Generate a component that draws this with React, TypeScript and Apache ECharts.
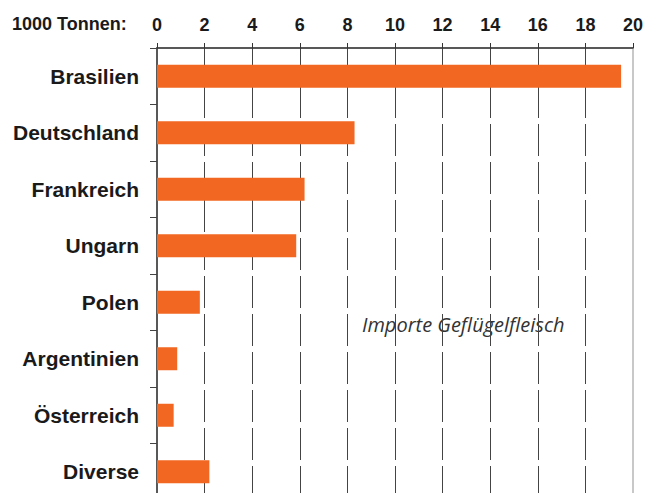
import React, { useEffect, useRef } from "react";
import * as echarts from "echarts";

const categories = [
  "Brasilien",
  "Deutschland",
  "Frankreich",
  "Ungarn",
  "Polen",
  "Argentinien",
  "Österreich",
  "Diverse",
];
const values = [19.5, 8.3, 6.2, 5.85, 1.8, 0.85, 0.7, 2.2];
const unitLabel = "1000 Tonnen:";
const annotation = "Importe Geflügelfleisch";

export default function App() {
  const ref = useRef<HTMLDivElement>(null);
  useEffect(() => {
    if (!ref.current) return;
    const chart = echarts.init(ref.current, null, { renderer: "svg" });
    chart.setOption({
      animation: false,
      backgroundColor: "#ffffff",
      grid: {
        left: 157,
        top: 48,
        right: 23,
        bottom: 10,
        show: true,
        borderColor: "#c8c8c8",
        borderWidth: 2,
        backgroundColor: "transparent",
      },
      xAxis: {
        type: "value",
        position: "top",
        min: 0,
        max: 20,
        interval: 2,
        axisLine: { show: true, lineStyle: { color: "#333", width: 1.5 } },
        axisTick: { show: true, length: 5, lineStyle: { color: "#333" } },
        axisLabel: {
          margin: 14,
          color: "#1a1a1a",
          fontSize: 18,
          fontWeight: "bold",
          fontFamily: "Liberation Sans, Arial, sans-serif",
        },
        splitLine: {
          show: true,
          showMinLine: false,
          showMaxLine: false,
          lineStyle: { color: "#444", width: 1, type: [32, 6] },
        },
      },
      yAxis: {
        type: "category",
        data: categories,
        inverse: true,
        axisLine: { show: true, lineStyle: { color: "#333", width: 1.5 } },
        axisTick: { show: true, length: 7, lineStyle: { color: "#444" } },
        axisLabel: {
          margin: 18,
          color: "#1a1a1a",
          fontSize: 21,
          fontWeight: "bold",
          fontFamily: "Liberation Sans, Arial, sans-serif",
        },
        splitLine: { show: false },
      },
      series: [
        {
          type: "bar",
          data: values,
          barWidth: 23,
          itemStyle: { color: "#F26722" },
        },
      ],
      graphic: [
        {
          type: "text",
          left: 12,
          top: 15,
          style: {
            text: unitLabel,
            fill: "#1a1a1a",
            font: "bold 18px 'Liberation Sans', Arial, sans-serif",
          },
        },
        {
          type: "text",
          left: 362,
          top: 314,
          style: {
            text: annotation,
            fill: "#333",
            font: "italic 20px 'Open Sans', sans-serif",
          },
        },
      ],
    });
    return () => chart.dispose();
  }, []);
  return (
    <div
      ref={ref}
      style={{ position: "fixed", left: 0, top: 0, width: 656, height: 510 }}
    />
  );
}
